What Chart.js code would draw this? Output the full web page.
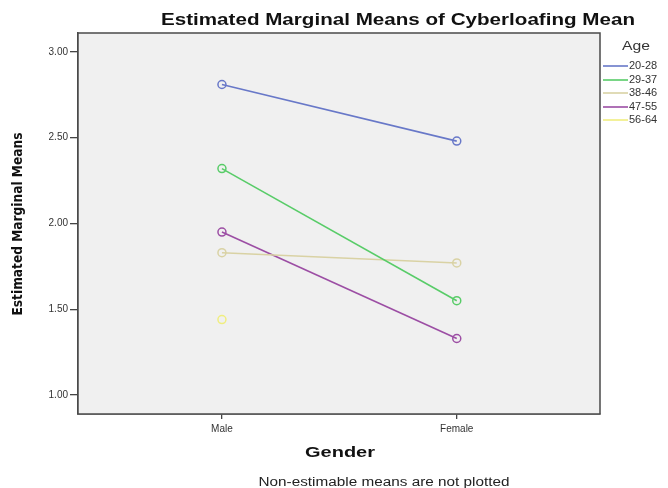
<!DOCTYPE html>
<html>
<head>
<meta charset="utf-8">
<script src="https://cdn.jsdelivr.net/npm/chart.js@4.4.1/dist/chart.umd.min.js"></script>
<style>
html,body{margin:0;padding:0;background:#fff;}
#wrap{width:668px;height:488px;position:relative;}
</style>
</head>
<body>
<div id="wrap"><canvas id="c" width="668" height="488"></canvas></div>
<script>
// ---- data ----
const genderCategories = ['Male', 'Female'];
const ageGroups = ['20-28', '29-37', '38-46', '47-55', '56-64'];
const age20_28 = [2.81, 2.48];
const age29_37 = [2.32, 1.55];
const age38_46 = [1.83, 1.77];
const age47_55 = [1.95, 1.33];
const age56_64 = [1.44, null];
const yTickValues = [1.00, 1.50, 2.00, 2.50, 3.00];
const seriesColors = ['#6878c8', '#58cc68', '#d9d2a4', '#9c4ea4', '#f0ee80'];

const chartTitle = 'Estimated Marginal Means of Cyberloafing Mean';
const xTitle = 'Gender';
const yTitle = 'Estimated Marginal Means';
const legendTitle = 'Age';
const footnote = 'Non-estimable means are not plotted';

const seriesValues = [age20_28, age29_37, age38_46, age47_55, age56_64];
const datasets = seriesValues.map((vals, i) => ({
  label: ageGroups[i],
  data: vals.map((v, j) => ({ x: j + 1, y: v })),
  borderColor: seriesColors[i],
  backgroundColor: 'rgba(0,0,0,0)',
  pointBorderColor: seriesColors[i],
  pointBackgroundColor: 'rgba(0,0,0,0)',
  pointRadius: 4,
  pointBorderWidth: 1.5,
  pointHoverRadius: 4,
  borderWidth: 1.6,
  spanGaps: false,
  tension: 0
}));

const AREA = { left: 78, top: 33, right: 600, bottom: 414 };
const FONT = '"Liberation Sans", Arial, sans-serif';

function fitText(ctx, text, x, y, font, targetW, align) {
  ctx.save();
  ctx.font = font;
  const w = ctx.measureText(text).width;
  const s = targetW ? targetW / w : 1;
  ctx.translate(x, y);
  ctx.scale(s, 1);
  ctx.textAlign = align || 'center';
  ctx.textBaseline = 'middle';
  ctx.fillText(text, 0, 0);
  ctx.restore();
}

const decorPlugin = {
  id: 'decor',
  beforeDatasetsDraw(chart) {
    const { ctx, chartArea: a } = chart;
    ctx.save();
    ctx.fillStyle = '#f0f0f0';
    ctx.fillRect(a.left, a.top, a.right - a.left, a.bottom - a.top);
    ctx.restore();
  },
  beforeDraw(chart) {
    const { ctx, chartArea: a } = chart;
    ctx.save();
    ctx.fillStyle = '#f0f0f0';
    ctx.fillRect(a.left, a.top, a.right - a.left, a.bottom - a.top);
    ctx.restore();
  },
  afterDraw(chart) {
    const { ctx, chartArea: a } = chart;
    ctx.save();
    // frame
    ctx.strokeStyle = '#4a4a4a';
    ctx.lineWidth = 1.5;
    ctx.strokeRect(a.left, a.top, a.right - a.left, a.bottom - a.top);
    // title
    ctx.fillStyle = '#111';
    fitText(ctx, chartTitle, 398, 20, 'bold 17px ' + FONT, 474, 'center');
    // x title
    fitText(ctx, xTitle, 340, 453, 'bold 15px ' + FONT, 70, 'center');
    // footnote
    ctx.fillStyle = '#222';
    fitText(ctx, footnote, 384, 483, '12px ' + FONT, 251, 'center');
    // y title rotated
    ctx.save();
    ctx.translate(18, 224);
    ctx.rotate(-Math.PI / 2);
    ctx.fillStyle = '#111';
    fitText(ctx, yTitle, 0, 0, 'bold 14px "Liberation Sans Narrow", "DejaVu Sans Condensed", ' + FONT, 183, 'center');
    ctx.restore();
    // legend
    ctx.fillStyle = '#333';
    fitText(ctx, legendTitle, 636, 47, '12px ' + FONT, 28, 'center');
    const rows = [66, 80, 93, 107, 120];
    chart.data.datasets.forEach((ds, i) => {
      const y = rows[i];
      ctx.strokeStyle = ds.borderColor;
      ctx.lineWidth = 1.6;
      ctx.beginPath();
      ctx.moveTo(603, y);
      ctx.lineTo(628, y);
      ctx.stroke();
      ctx.fillStyle = '#333';
      fitText(ctx, ds.label, 629, y, '11px ' + FONT, null, 'left');
    });
    ctx.restore();
  }
};

new Chart(document.getElementById('c'), {
  type: 'line',
  data: { datasets },
  options: {
    responsive: false,
    animation: false,
    devicePixelRatio: 1,
    layout: { padding: { left: 0, top: AREA.top, right: 668 - AREA.right, bottom: 0 } },
    plugins: {
      legend: { display: false },
      title: { display: false },
      tooltip: { enabled: false }
    },
    scales: {
      x: {
        type: 'linear',
        min: 0.387,
        max: 2.61,
        afterBuildTicks(scale) { scale.ticks = genderCategories.map((c, i) => ({ value: i + 1 })); },
        afterFit(scale) { scale.height = 488 - AREA.bottom; },
        ticks: {
          callback: (v) => genderCategories[v - 1] || '',
          font: { family: FONT, size: 10 },
          color: '#333',
          padding: 4,
          maxRotation: 0,
          autoSkip: false
        },
        grid: { drawOnChartArea: false, drawTicks: true, tickLength: 5, color: '#444', lineWidth: 1.3 },
        border: { display: true, color: '#4a4a4a', width: 1.5 }
      },
      y: {
        type: 'linear',
        min: 0.89,
        max: 3.11,
        afterBuildTicks(scale) { scale.ticks = yTickValues.map(v => ({ value: v })); },
        afterFit(scale) { scale.width = AREA.left; },
        ticks: {
          callback: (v) => Number(v).toFixed(2),
          font: { family: FONT, size: 10 },
          color: '#333',
          padding: 2,
          autoSkip: false
        },
        grid: { drawOnChartArea: false, drawTicks: true, tickLength: 8, color: '#444', lineWidth: 1.3 },
        border: { display: true, color: '#4a4a4a', width: 1.5 }
      }
    }
  },
  plugins: [decorPlugin]
});
</script>
</body>
</html>
